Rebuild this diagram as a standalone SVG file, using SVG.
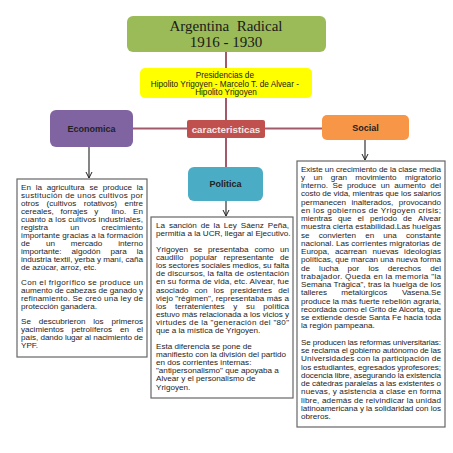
<svg xmlns="http://www.w3.org/2000/svg" width="453" height="453" viewBox="0 0 453 453">
<defs>
<marker id="arr" markerWidth="8" markerHeight="8" refX="7" refY="4" orient="auto" markerUnits="userSpaceOnUse">
<path d="M1,1 L7,4 L1,7" fill="none" stroke="#222" stroke-width="1"/>
</marker>
<style>
.conn{stroke:#a25a6a;stroke-width:2;fill:none}
.arrow{stroke:#333;stroke-width:1.2;fill:none}
.box{fill:#fff;stroke:#666;stroke-width:1.2}
.t{font-family:"Liberation Sans",Arial,sans-serif;font-size:8.1px;fill:#1c1c1c}
.lbl{font-family:"Liberation Sans",Arial,sans-serif;font-weight:bold;font-size:9px;fill:#222;text-anchor:middle}
.title{font-family:"Liberation Serif","Times New Roman",serif;font-size:15px;fill:#1a1a1a;text-anchor:middle;white-space:pre}
.e{text-anchor:end}
</style>
</defs>
<rect width="453" height="453" fill="#fff"/>

<g id="connectors">
<line class="conn" x1="226" y1="52" x2="226" y2="68"/>
<line class="conn" x1="226" y1="98" x2="226" y2="120"/>
<line class="conn" x1="226" y1="138" x2="226" y2="167"/>
<line class="conn" x1="133" y1="128.5" x2="187" y2="128.5"/>
<line class="conn" x1="265" y1="128.5" x2="322" y2="128.5"/>
<line class="arrow" x1="89" y1="147" x2="89" y2="178" marker-end="url(#arr)"/>
<line class="arrow" x1="365" y1="140" x2="365" y2="160" marker-end="url(#arr)"/>
<line class="arrow" x1="226" y1="201" x2="226" y2="216" marker-end="url(#arr)"/>
</g>

<g id="title">
<rect x="127" y="16" width="199" height="36" rx="6" fill="#9bbb59"/>
<text class="title" x="226" y="31">Argentina  Radical</text>
<text class="title" x="226" y="47">1916 - 1930</text>
</g>

<g id="presidencias">
<rect x="140" y="68" width="172" height="30" rx="5" fill="#ffff00"/>
<text font-family="Liberation Sans,Arial,sans-serif" font-size="8.2" fill="#1a1a1a" text-anchor="middle">
<tspan x="226" y="78">Presidencias de</tspan>
<tspan x="226" y="87">Hipolito Yrigoyen - Marcelo T. de Alvear -</tspan>
<tspan x="226" y="95">Hipolito Yrigoyen</tspan>
</text>
</g>

<g id="caracteristicas">
<rect x="187" y="120" width="78" height="18" rx="2" fill="#c0504d"/>
<text class="lbl" x="226" y="132.5" style="font-size:9.8px;fill:#f4e4e4">caracteristicas</text>
</g>

<g id="economica">
<rect x="50" y="110" width="83" height="37" rx="6" fill="#8064a2"/>
<text class="lbl" x="91.5" y="131.5">Economica</text>
</g>

<g id="social">
<rect x="322" y="115" width="87" height="25" rx="5" fill="#f79646"/>
<text class="lbl" x="365.5" y="130.5">Social</text>
</g>

<g id="politica">
<rect x="188" y="167" width="75" height="34" rx="6" fill="#4bacc6"/>
<text class="lbl" x="225.5" y="187">Politica</text>
</g>

<g id="texto-economica">
<rect class="box" x="17" y="179" width="130" height="178"/>
<g class="t">
<text y="190"><tspan x="21">En</tspan><tspan x="35.7">la</tspan><tspan x="46.8">agricultura</tspan><tspan x="89.4">se</tspan><tspan x="102.7">produce</tspan><tspan x="143" class="e">la</tspan></text>
<text x="21" y="198" textLength="122" lengthAdjust="spacing">sustitución de unos cultivos por</text>
<text y="206"><tspan x="21">otros</tspan><tspan x="46.5">(cultivos</tspan><tspan x="83.7">rotativos)</tspan><tspan x="143" class="e">entre</tspan></text>
<text y="214"><tspan x="21">cereales,</tspan><tspan x="60.5">forrajes</tspan><tspan x="94.2">y</tspan><tspan x="111.5">lino.</tspan><tspan x="143" class="e">En</tspan></text>
<text x="21" y="222" textLength="122" lengthAdjust="spacing">cuanto a los cultivos industriales,</text>
<text y="230"><tspan x="21">registra</tspan><tspan x="70.3">un</tspan><tspan x="143" class="e">crecimiento</tspan></text>
<text x="21" y="238" textLength="122" lengthAdjust="spacing">importante gracias a la formación</text>
<text y="246"><tspan x="21">de</tspan><tspan x="45.9">un</tspan><tspan x="70.8">mercado</tspan><tspan x="143" class="e">interno</tspan></text>
<text y="254"><tspan x="21">importante:</tspan><tspan x="71.6">algodón</tspan><tspan x="110.5">para</tspan><tspan x="143" class="e">la</tspan></text>
<text x="21" y="262" textLength="122" lengthAdjust="spacing">industria textil, yerba y maní, caña</text>
<text x="21" y="270">de azúcar, arroz, etc.</text>
<text x="21" y="285" textLength="122" lengthAdjust="spacing">Con el frigorífico se produce un</text>
<text x="21" y="293" textLength="122" lengthAdjust="spacing">aumento de cabezas de ganado y</text>
<text x="21" y="301" textLength="122" lengthAdjust="spacing">refinamiento. Se creó una ley de</text>
<text x="21" y="309">protección ganadera.</text>
<text y="324"><tspan x="21">Se</tspan><tspan x="38.7">descubrieron</tspan><tspan x="93.3">los</tspan><tspan x="143" class="e">primeros</tspan></text>
<text y="332"><tspan x="21">yacimientos</tspan><tspan x="71.6">petrolíferos</tspan><tspan x="119.9">en</tspan><tspan x="143" class="e">el</tspan></text>
<text x="21" y="340" textLength="122" lengthAdjust="spacing">país, dando lugar al nacimiento de</text>
<text x="21" y="348">YPF.</text>
</g>
</g>

<g id="texto-politica">
<rect class="box" x="151" y="217" width="142" height="181"/>
<g class="t">
<text y="228"><tspan x="156">La</tspan><tspan x="168.9">sanción</tspan><tspan x="200.7">de</tspan><tspan x="213.6">la</tspan><tspan x="223.8">Ley</tspan><tspan x="240.8">Sáenz</tspan><tspan x="289" class="e">Peña,</tspan></text>
<text x="156" y="236">permitía a la UCR, llegar al Ejecutivo.</text>
<text y="252"><tspan x="156">Yrigoyen</tspan><tspan x="193.8">se</tspan><tspan x="208.1">presentaba</tspan><tspan x="254.4">como</tspan><tspan x="289" class="e">un</tspan></text>
<text y="260.1"><tspan x="156">caudillo</tspan><tspan x="190">popular</tspan><tspan x="223.5">representante</tspan><tspan x="289" class="e">de</tspan></text>
<text x="156" y="268.2" textLength="133" lengthAdjust="spacing">los sectores sociales medios, su falta</text>
<text x="156" y="276.3" textLength="133" lengthAdjust="spacing">de discursos, la falta de ostentación</text>
<text x="156" y="284.4" textLength="133" lengthAdjust="spacing">en su forma de vida, etc. Alvear, fue</text>
<text y="292.5"><tspan x="156">asociado</tspan><tspan x="194.5">con</tspan><tspan x="213.7">los</tspan><tspan x="230.2">presidentes</tspan><tspan x="289" class="e">del</tspan></text>
<text x="156" y="300.6" textLength="133" lengthAdjust="spacing">viejo "régimen", representaba más a</text>
<text y="308.7"><tspan x="156">los</tspan><tspan x="175.1">terratenientes</tspan><tspan x="233.3">y</tspan><tspan x="246.1">su</tspan><tspan x="289" class="e">política</tspan></text>
<text x="156" y="316.8" textLength="133" lengthAdjust="spacing">estuvo más relacionada a los vicios y</text>
<text x="156" y="324.9" textLength="133" lengthAdjust="spacing">virtudes de la "generación del "80"</text>
<text x="156" y="333">que a la mística de Yrigoyen.</text>
<text x="156" y="349">Esta diferencia se pone de</text>
<text x="156" y="357.1">manifiesto con la división del partido</text>
<text x="156" y="365.2">en dos corrientes internas:</text>
<text x="156" y="373.3">"antipersonalismo" que apoyaba a</text>
<text x="156" y="381.4">Alvear y el personalismo de</text>
<text x="156" y="389.5">Yrigoyen.</text>
</g>
</g>

<g id="texto-social">
<rect class="box" x="297" y="161" width="148" height="266"/>
<g class="t">
<text x="301" y="171.5" textLength="140" lengthAdjust="spacing">Existe un crecimiento de la clase media</text>
<text y="179.75"><tspan x="301">y</tspan><tspan x="313.4">un</tspan><tspan x="330.7">gran</tspan><tspan x="355.2">movimiento</tspan><tspan x="441" class="e">migratorio</tspan></text>
<text y="188"><tspan x="301">interno.</tspan><tspan x="332.5">Se</tspan><tspan x="346.9">produce</tspan><tspan x="380.7">un</tspan><tspan x="394.2">aumento</tspan><tspan x="441" class="e">del</tspan></text>
<text x="301" y="196.25" textLength="140" lengthAdjust="spacing">costo de vida, mientras que los salarios</text>
<text y="204.5"><tspan x="301">permanecen</tspan><tspan x="351.4">inalterados,</tspan><tspan x="441" class="e">provocando</tspan></text>
<text x="301" y="212.75" textLength="140" lengthAdjust="spacing">en los gobiernos de Yrigoyen crisis;</text>
<text y="221"><tspan x="301">mientras</tspan><tspan x="338.1">que</tspan><tspan x="357.6">el</tspan><tspan x="369.9">periodo</tspan><tspan x="402.9">de</tspan><tspan x="441" class="e">Alvear</tspan></text>
<text x="301" y="229.25" textLength="140" lengthAdjust="spacing">muestra cierta estabilidad.Las huelgas</text>
<text y="237.5"><tspan x="301">se</tspan><tspan x="318.7">convierten</tspan><tspan x="365.2">en</tspan><tspan x="383.3">una</tspan><tspan x="441" class="e">constante</tspan></text>
<text x="301" y="245.75" textLength="140" lengthAdjust="spacing">nacional. Las corrientes migratorias de</text>
<text y="254"><tspan x="301">Europa,</tspan><tspan x="334.9">acarrean</tspan><tspan x="372.4">nuevas</tspan><tspan x="441" class="e">ideologías</tspan></text>
<text x="301" y="262.25" textLength="140" lengthAdjust="spacing">políticas, que marcan una nueva forma</text>
<text y="270.5"><tspan x="301">de</tspan><tspan x="319.1">lucha</tspan><tspan x="347.6">por</tspan><tspan x="368.4">los</tspan><tspan x="387.8">derechos</tspan><tspan x="441" class="e">del</tspan></text>
<text x="301" y="278.75" textLength="140" lengthAdjust="spacing">trabajador. Queda en la memoria "la</text>
<text x="301" y="287" textLength="140" lengthAdjust="spacing">Semana Trágica", tras la huelga de los</text>
<text y="295.25"><tspan x="301">talleres</tspan><tspan x="341.3">metalúrgicos</tspan><tspan x="441" class="e">Vasena.Se</tspan></text>
<text x="301" y="303.5" textLength="140" lengthAdjust="spacing">produce la más fuerte rebelión agraria,</text>
<text x="301" y="311.75" textLength="140" lengthAdjust="spacing">recordada como el Grito de Alcorta, que</text>
<text x="301" y="320" textLength="140" lengthAdjust="spacing">se extiende desde Santa Fe hacia toda</text>
<text x="301" y="328.25">la región pampeana.</text>
<text x="301" y="344.75" textLength="140" lengthAdjust="spacing">Se producen las reformas universitarias:</text>
<text x="301" y="353" textLength="140" lengthAdjust="spacing">se reclama el gobierno autónomo de las</text>
<text x="301" y="361.25" textLength="140" lengthAdjust="spacing">Universidades con la participación de</text>
<text x="301" y="369.5" textLength="140" lengthAdjust="spacing">los estudiantes, egresados yprofesores;</text>
<text x="301" y="377.75" textLength="140" lengthAdjust="spacing">docencia libre, asegurando la existencia</text>
<text x="301" y="386" textLength="140" lengthAdjust="spacing">de cátedras paralelas a las existentes o</text>
<text x="301" y="394.25" textLength="140" lengthAdjust="spacing">nuevas, y asistencia a clase en forma</text>
<text x="301" y="402.5" textLength="140" lengthAdjust="spacing">libre, además de reivindicar la unidad</text>
<text x="301" y="410.75" textLength="140" lengthAdjust="spacing">latinoamericana y la solidaridad con los</text>
<text x="301" y="419">obreros.</text>
</g>
</g>
</svg>
